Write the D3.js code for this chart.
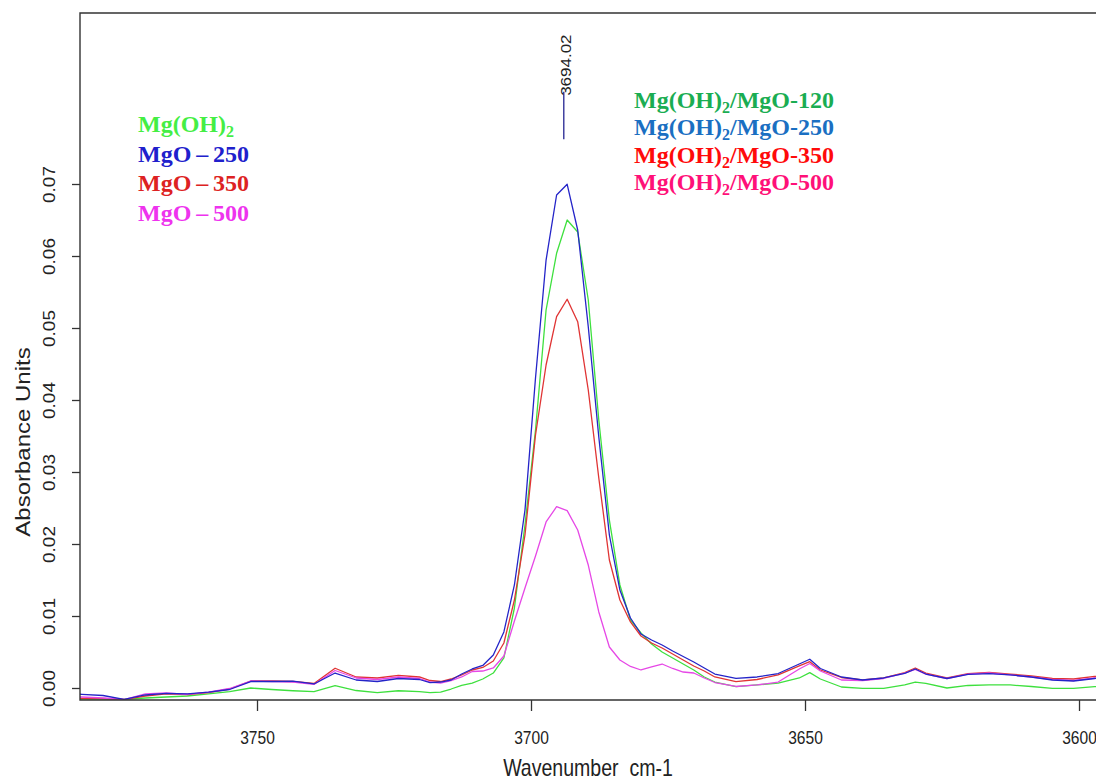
<!DOCTYPE html>
<html>
<head>
<meta charset="utf-8">
<script src="https://cdn.jsdelivr.net/npm/d3@7"></script>
<style>
  html, body { margin: 0; padding: 0; background: #fff; }
  svg { display: block; }
  .axis text { font-family: 'Liberation Sans', Arial, sans-serif; fill: #222; }
  .legend text { font-family: 'Liberation Serif', 'Times New Roman', serif; font-weight: bold; }
</style>
</head>
<body>
<svg id="chart" width="1096" height="783"></svg>
<script>
// wavenumber grid (cm-1)
const wavenumbers = [
  3783.88, 3781.95, 3778.10, 3774.25, 3770.40, 3766.55, 3762.70, 3758.85, 3755.00, 3751.15,
  3747.30, 3743.45, 3739.60, 3735.75, 3731.90, 3728.05, 3724.20, 3720.35,
  3718.43, 3716.50, 3714.58, 3712.65, 3710.73, 3708.80, 3706.88, 3704.95, 3703.03, 3701.10,
  3699.18, 3697.25, 3695.33, 3693.40, 3691.48, 3689.55, 3687.63, 3685.70, 3683.78, 3681.85,
  3679.93, 3678.00, 3676.08, 3674.15, 3672.23, 3670.30, 3668.38, 3666.45,
  3662.60, 3658.75, 3654.90, 3651.05, 3649.13, 3647.20, 3643.35, 3639.50,
  3635.65, 3631.80, 3629.88, 3627.95, 3624.10, 3620.25, 3616.40, 3612.55,
  3608.70, 3604.85, 3601.00, 3597.15, 3595.23
];

const mgOH2 = [
  -0.00167, -0.00167, -0.00167, -0.00157, -0.00139, -0.00125, -0.00111, -0.00083, -0.00049, 0.00000,
  -0.00021, -0.00038, -0.00049, 0.00032, -0.00035, -0.00065, -0.00038, -0.00049,
  -0.00065, -0.00056, -0.00014, 0.00035, 0.00069, 0.00125, 0.00208, 0.00417, 0.01111, 0.02264,
  0.03583, 0.05250, 0.06038, 0.06500, 0.06333, 0.05389, 0.03722, 0.02333, 0.01431, 0.00944,
  0.00764, 0.00611, 0.00500, 0.00417, 0.00333, 0.00250, 0.00153, 0.00083,
  0.00018, 0.00042, 0.00069, 0.00139, 0.00213, 0.00125, 0.00014, -0.00004,
  -0.00004, 0.00042, 0.00083, 0.00063, 0.00000, 0.00035, 0.00042, 0.00042,
  0.00021, -0.00004, -0.00004, 0.00018, 0.00021
];

const mgo250 = [
  -0.00083, -0.00088, -0.00104, -0.00157, -0.00097, -0.00074, -0.00083, -0.00056, -0.00021, 0.00090,
  0.00090, 0.00094, 0.00056, 0.00208, 0.00111, 0.00090, 0.00132, 0.00118,
  0.00074, 0.00083, 0.00111, 0.00194, 0.00264, 0.00313, 0.00458, 0.00778, 0.01431, 0.02472,
  0.04306, 0.05944, 0.06847, 0.06996, 0.06361, 0.05018, 0.03486, 0.02125, 0.01361, 0.00972,
  0.00750, 0.00667, 0.00597, 0.00514, 0.00438, 0.00361, 0.00278, 0.00194,
  0.00135, 0.00153, 0.00201, 0.00333, 0.00399, 0.00271, 0.00153, 0.00111,
  0.00139, 0.00204, 0.00264, 0.00194, 0.00132, 0.00188, 0.00201, 0.00181,
  0.00153, 0.00111, 0.00097, 0.00132, 0.00135
];

const mgo350 = [
  -0.00139, -0.00143, -0.00146, -0.00160, -0.00111, -0.00083, -0.00090, -0.00063, -0.00014, 0.00097,
  0.00097, 0.00090, 0.00063, 0.00274, 0.00153, 0.00139, 0.00174, 0.00153,
  0.00104, 0.00090, 0.00125, 0.00181, 0.00250, 0.00285, 0.00375, 0.00625, 0.01222, 0.02125,
  0.03514, 0.04486, 0.05157, 0.05399, 0.05088, 0.04139, 0.02917, 0.01778, 0.01222, 0.00917,
  0.00722, 0.00625, 0.00556, 0.00472, 0.00389, 0.00306, 0.00236, 0.00153,
  0.00088, 0.00118, 0.00181, 0.00306, 0.00365, 0.00250, 0.00146, 0.00111,
  0.00139, 0.00215, 0.00278, 0.00208, 0.00139, 0.00201, 0.00215, 0.00194,
  0.00167, 0.00132, 0.00125, 0.00160, 0.00167
];

const mgo500 = [
  -0.00125, -0.00125, -0.00139, -0.00160, -0.00083, -0.00069, -0.00090, -0.00056, -0.00007, 0.00097,
  0.00090, 0.00083, 0.00049, 0.00243, 0.00139, 0.00118, 0.00153, 0.00132,
  0.00083, 0.00069, 0.00104, 0.00153, 0.00229, 0.00236, 0.00278, 0.00444, 0.00931, 0.01389,
  0.01833, 0.02306, 0.02518, 0.02463, 0.02194, 0.01708, 0.01056, 0.00569, 0.00389, 0.00299,
  0.00250, 0.00292, 0.00333, 0.00271, 0.00222, 0.00208, 0.00139, 0.00076,
  0.00021, 0.00042, 0.00083, 0.00264, 0.00340, 0.00236, 0.00111, 0.00104,
  0.00132, 0.00208, 0.00257, 0.00194, 0.00132, 0.00194, 0.00208, 0.00181,
  0.00153, 0.00118, 0.00104, 0.00139, 0.00146
];

const xTicks = [3750, 3700, 3650, 3600];
const yTicks = [0, 0.01, 0.02, 0.03, 0.04, 0.05, 0.06, 0.07];
const peakWavenumber = 3694.02;
const peakMarkRange = [0.0762, 0.0828];

// drawn in this order (last on top)
const series = [
  { values: mgOH2, color: '#3ee03e' },
  { values: mgo350, color: '#e03434' },
  { values: mgo500, color: '#e648e6' },
  { values: mgo250, color: '#2424c8' }
];

const legendLeft = [
  { parts: [['Mg(OH)'], ['2', 'sub']], color: '#44ee44' },
  { parts: [['MgO\u2009\u2013\u2009250']], color: '#2020cc' },
  { parts: [['MgO\u2009\u2013\u2009350']], color: '#dd2222' },
  { parts: [['MgO\u2009\u2013\u2009500']], color: '#ee33ee' }
];
const legendRight = [
  { parts: [['Mg(OH)'], ['2', 'sub'], ['/MgO-120']], color: '#1aad52' },
  { parts: [['Mg(OH)'], ['2', 'sub'], ['/MgO-250']], color: '#1a6fc2' },
  { parts: [['Mg(OH)'], ['2', 'sub'], ['/MgO-350']], color: '#ff0a0a' },
  { parts: [['Mg(OH)'], ['2', 'sub'], ['/MgO-500']], color: '#ff1078' }
];

const plot = { left: 80, top: 13, right: 1096, bottom: 700 };
const squeeze = 0.85; // picture text is a bit narrow

const svg = d3.select('#chart');

const x = d3.scaleLinear().domain([3782.3, 3596.9]).range([plot.left, plot.right]);
const y = d3.scaleLinear().domain([-0.001667, 0.09375]).range([plot.bottom, plot.top]);

svg.append('defs').append('clipPath').attr('id', 'plot-clip')
  .append('rect')
  .attr('x', plot.left).attr('y', plot.top)
  .attr('width', plot.right - plot.left).attr('height', plot.bottom - plot.top);

// spectra
const line = d3.line()
  .x((d, i) => x(wavenumbers[i]))
  .y(d => y(d));

svg.append('g').attr('clip-path', 'url(#plot-clip)')
  .selectAll('path')
  .data(series)
  .enter().append('path')
  .attr('d', d => line(d.values))
  .attr('fill', 'none')
  .attr('stroke', d => d.color)
  .attr('stroke-width', 1.3)
  .attr('stroke-linejoin', 'round');

// box (right side runs off the picture)
svg.append('path')
  .attr('d', `M${plot.right + 10},${plot.top}H${plot.left}V${plot.bottom}H${plot.right + 10}`)
  .attr('fill', 'none')
  .attr('stroke', '#333')
  .attr('stroke-width', 1.4);

// x axis
const xAxis = svg.append('g')
  .attr('class', 'axis')
  .attr('transform', `translate(0,${plot.bottom})`)
  .call(d3.axisBottom(x).tickValues(xTicks).tickSize(11).tickFormat(d3.format('d')));
xAxis.select('.domain').remove();
xAxis.selectAll('line').attr('stroke', '#333').attr('stroke-width', 1.3);
xAxis.selectAll('text')
  .attr('y', null).attr('dy', null)
  .attr('transform', `translate(0,44) scale(0.82,1)`)
  .style('font-size', '19px');

// y axis
const yAxis = svg.append('g')
  .attr('class', 'axis')
  .attr('transform', `translate(${plot.left},0)`)
  .call(d3.axisLeft(y).tickValues(yTicks).tickSize(8).tickFormat(d3.format('.2f')));
yAxis.select('.domain').remove();
yAxis.selectAll('line').attr('stroke', '#333').attr('stroke-width', 1.3);
yAxis.selectAll('text')
  .attr('x', null).attr('dy', null)
  .attr('text-anchor', 'middle')
  .attr('transform', `translate(-25,0) scale(${squeeze},1) rotate(-90)`)
  .style('font-size', '19px');

// axis titles
svg.append('text')
  .attr('transform', `translate(${(plot.left + plot.right) / 2},776) scale(${squeeze},1)`)
  .attr('text-anchor', 'middle')
  .style('font-family', "'Liberation Sans', Arial, sans-serif")
  .style('font-size', '23px')
  .style('white-space', 'pre')
  .attr('fill', '#222')
  .text('Wavenumber  cm-1');

svg.append('text')
  .attr('transform', `translate(30,442) scale(${squeeze},1) rotate(-90)`)
  .attr('text-anchor', 'middle')
  .style('font-family', "'Liberation Sans', Arial, sans-serif")
  .style('font-size', '24px')
  .attr('fill', '#222')
  .text('Absorbance Units');

// peak marker
const px = x(peakWavenumber);
svg.append('line')
  .attr('x1', px).attr('x2', px)
  .attr('y1', y(peakMarkRange[0])).attr('y2', y(peakMarkRange[1]))
  .attr('stroke', '#333399')
  .attr('stroke-width', 1.4);

svg.append('text')
  .attr('transform', `translate(${px + 7},${y(peakMarkRange[1]) + 4}) scale(${squeeze},1) rotate(-90)`)
  .attr('text-anchor', 'start')
  .style('font-family', "'Liberation Sans', Arial, sans-serif")
  .style('font-size', '17px')
  .attr('fill', '#222')
  .text(peakWavenumber.toFixed(2));

// legends
function drawLegend(items, x0, y0, step) {
  const g = svg.append('g').attr('class', 'legend');
  items.forEach((item, i) => {
    const t = g.append('text')
      .attr('x', x0)
      .attr('y', y0 + i * step)
      .attr('fill', item.color)
      .style('font-size', '24px');
    let shifted = false;
    item.parts.forEach(p => {
      const span = t.append('tspan').text(p[0]);
      if (p[1] === 'sub') {
        span.attr('dy', 5).style('font-size', '16px');
        shifted = true;
      } else if (shifted) {
        span.attr('dy', -5);
        shifted = false;
      }
    });
  });
}

drawLegend(legendLeft, 138, 132, 29.6);
drawLegend(legendRight, 634, 108, 27.4);
</script>
</body>
</html>
